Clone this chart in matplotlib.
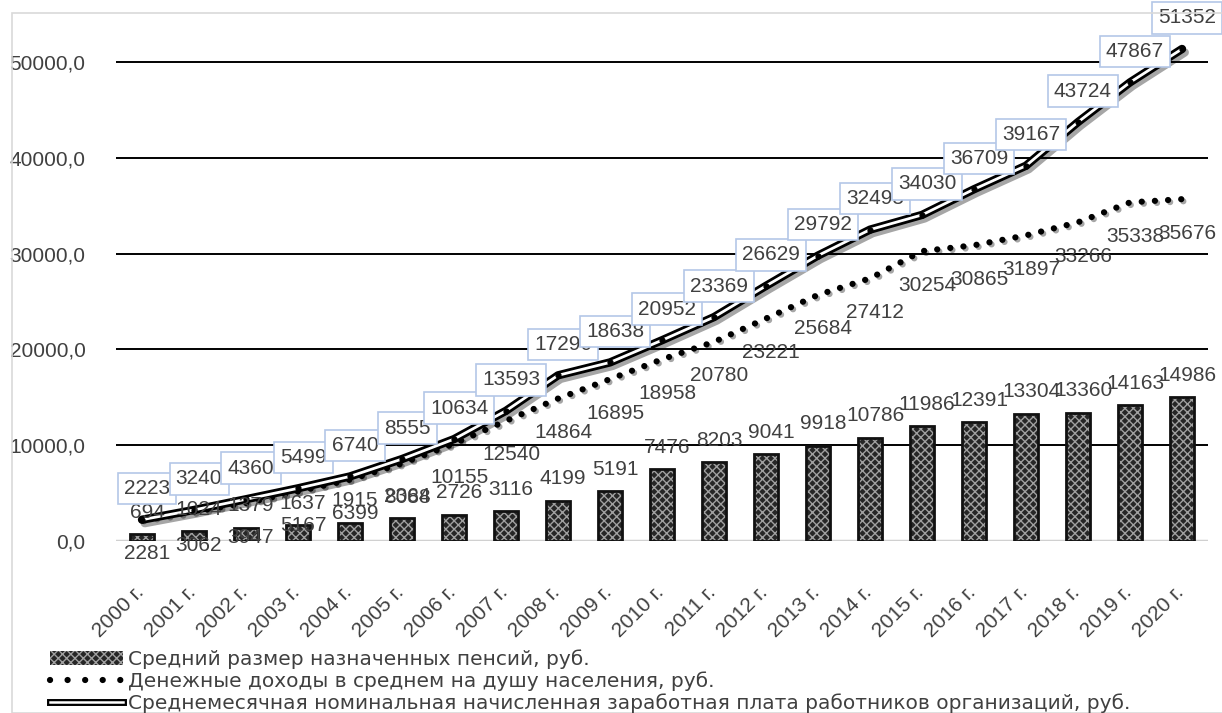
import matplotlib
matplotlib.use("Agg")
import matplotlib.pyplot as plt
import matplotlib.patheffects as pe
import matplotlib.transforms as mtransforms
from matplotlib.patches import Patch, Rectangle
from matplotlib.lines import Line2D
from matplotlib.ticker import FuncFormatter
import numpy as np

years = [f"{y} г." for y in range(2000, 2021)]
pensions = [694, 1024, 1379, 1637, 1915, 2364, 2726, 3116, 4199, 5191, 7476,
            8203, 9041, 9918, 10786, 11986, 12391, 13304, 13360, 14163, 14986]
income = [2281, 3062, 3947, 5167, 6399, 8088, 10155, 12540, 14864, 16895, 18958,
          20780, 23221, 25684, 27412, 30254, 30865, 31897, 33266, 35338, 35676]
wages = [2223, 3240, 4360, 5499, 6740, 8555, 10634, 13593, 17290, 18638, 20952,
         23369, 26629, 29792, 32495, 34030, 36709, 39167, 43724, 47867, 51352]

label_pens = "Средний размер назначенных пенсий, руб."
label_inc = "Денежные доходы в среднем на душу населения, руб."
label_wage = "Среднемесячная номинальная начисленная заработная плата работников организаций, руб."

plt.rcParams['font.family'] = ['Liberation Sans', 'DejaVu Sans']
txt_color = '#404040'

W, H = 1222, 713
fig = plt.figure(figsize=(W / 100, H / 100), dpi=100)
ax = fig.add_axes([116 / W, 1 - 541 / H, 1092 / W, (541 - 14) / H])

x = np.arange(len(years))

# bars
ax.bar(x, pensions, width=0.46, facecolor='#262626', edgecolor='#a0a0a0',
       hatch='xxxx', linewidth=0, zorder=2)
ax.bar(x, pensions, width=0.46, fill=False, edgecolor='#111111', linewidth=2, zorder=2.1)

# income dotted line
dot_style = (0, (0.01, 2.1))
ax.plot(x, income, color='black', linestyle=dot_style, linewidth=4.5,
        dash_capstyle='round', zorder=3,
        path_effects=[pe.SimpleLineShadow(offset=(1.5, -1.5), alpha=0.35), pe.Normal()])

# wage double line
ax.plot(x, wages, color='black', linewidth=6, zorder=4, solid_joinstyle='round',
        solid_capstyle='round',
        path_effects=[pe.SimpleLineShadow(offset=(2, -2.5), alpha=0.35),
                      pe.Stroke(linewidth=6, foreground='black'),
                      pe.Stroke(linewidth=2, foreground='white')])
ax.plot(x, wages, linestyle='none', marker='o', markersize=3.5, color='black', zorder=4.1)

# data labels
fs = 15
for xi, v in zip(x, pensions):
    ax.annotate(str(v), (xi, v), xytext=(5, 22), textcoords='offset pixels',
                ha='center', va='center', fontsize=fs, color=txt_color, zorder=5)
for xi, v in zip(x, income):
    ax.annotate(str(v), (xi, v), xytext=(5, -34), textcoords='offset pixels',
                ha='center', va='center', fontsize=fs, color=txt_color, zorder=5)
for xi, v in zip(x, wages):
    ax.annotate(str(v), (xi, v), xytext=(5, 31), textcoords='offset pixels',
                ha='center', va='center', fontsize=fs, color=txt_color, zorder=6,
                bbox=dict(boxstyle='square,pad=0.3', facecolor='white',
                          edgecolor='#b4c7e7', linewidth=1.2))

ax.set_xlim(-0.5, len(years) - 0.5)
ax.set_ylim(0, 55000)
ax.set_yticks([0, 10000, 20000, 30000, 40000, 50000])
ax.yaxis.set_major_formatter(FuncFormatter(lambda v, p: f"{v:.1f}".replace('.', ',')))
ax.grid(axis='y', color='black', linewidth=1.4, zorder=0)
ax.axhline(0, color='#d0d0d0', linewidth=2.5, zorder=1)
ax.set_axisbelow(True)
for s in ax.spines.values():
    s.set_visible(False)
ax.tick_params(axis='y', length=0, pad=22, labelsize=fs, labelcolor=txt_color)
ax.set_xticks(x)
ax.set_xticklabels(years, rotation=45, ha='right', va='top', rotation_mode='anchor')
ax.tick_params(axis='x', length=0, pad=30, labelsize=fs, labelcolor=txt_color)
for lab in ax.get_xticklabels():
    lab.set_transform(lab.get_transform() + mtransforms.ScaledTranslation(-8 / 100, 0, fig.dpi_scale_trans))

# legend
h_bar = Patch(facecolor='#262626', edgecolor='#a0a0a0', hatch='xxxx', linewidth=0)
h_inc = Line2D([], [], color='black', linestyle=(0, (0.01, 2.8)), linewidth=4.5,
               dash_capstyle='round')
h_wage = Line2D([], [], color='black', linewidth=5,
                path_effects=[pe.Stroke(linewidth=5, foreground='black'),
                              pe.Stroke(linewidth=1.8, foreground='white')])
leg = fig.legend([h_bar, h_inc, h_wage], [label_pens, label_inc, label_wage],
                 loc='upper left', bbox_to_anchor=(50 / W, 1 - 649 / H),
                 frameon=False, prop={'family': ['DejaVu Sans'], 'size': 14.5},
                 labelcolor=txt_color,
                 handlelength=3.6, handletextpad=0.25, labelspacing=0.12,
                 borderpad=0, borderaxespad=0)

# chart border
fig.patches.append(Rectangle((12 / W, 0), 1.2, 1 - 13 / H, transform=fig.transFigure,
                             fill=False, edgecolor='#d9d9d9', linewidth=1.2))

fig.savefig('out.png', dpi=100)
